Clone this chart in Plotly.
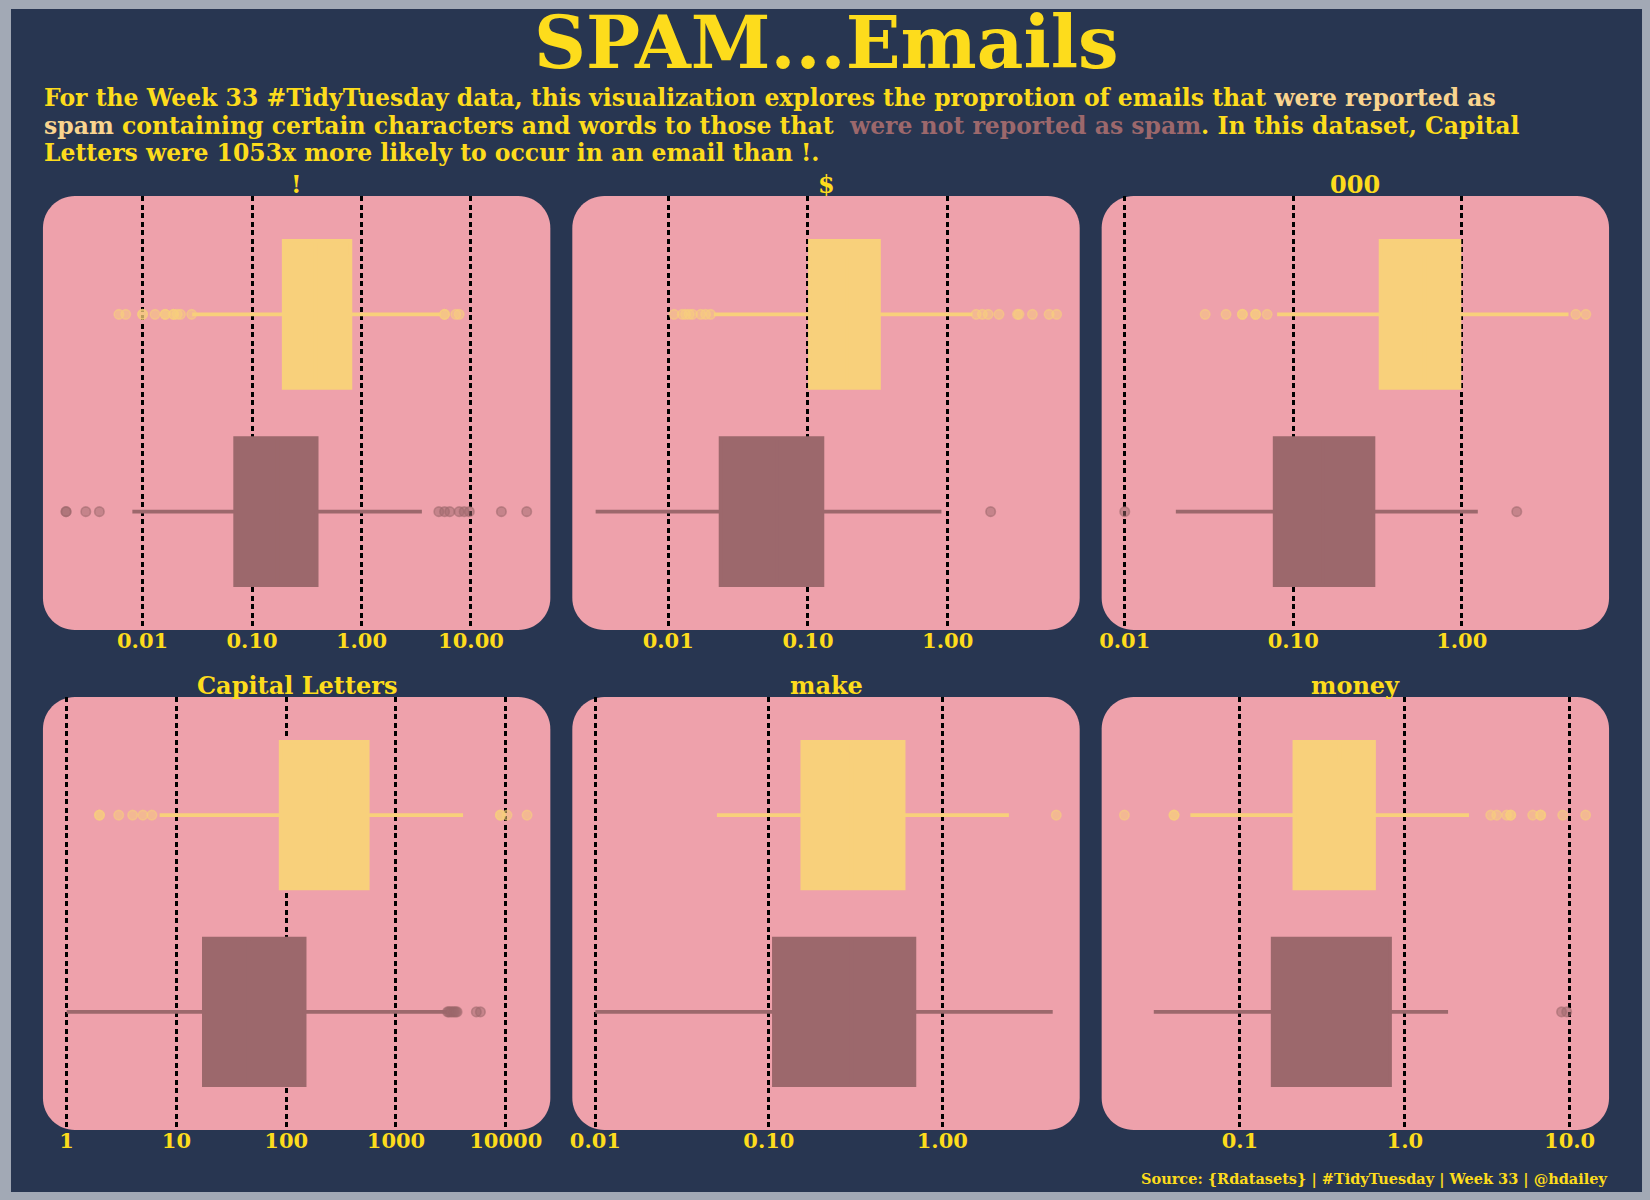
import plotly.graph_objects as go

W, H = 1650, 1200
NAVY = "#283651"
BORDER = "#a2a9b5"
PINK = "#eea1ab"
YELLOW = "#fddc1c"
SPAM_C = "#f8d07b"
HAM_C = "#9c686c"
FONT = "DejaVu Serif"

# ---------------- data ----------------
panel_titles = ["!", "$", "000", "Capital Letters", "make", "money"]

# log10 axis ranges of each panel
x_ranges = [[-2.91, 1.725], [-2.687, 0.945], [-2.137, 0.874],
            [-0.216, 4.406], [-2.133, 0.792], [-1.839, 1.239]]

tick_vals = [[0.01, 0.1, 1, 10], [0.01, 0.1, 1], [0.01, 0.1, 1],
             [1, 10, 100, 1000, 10000], [0.01, 0.1, 1], [0.1, 1, 10]]
tick_text = [["0.01", "0.10", "1.00", "10.00"], ["0.01", "0.10", "1.00"],
             ["0.01", "0.10", "1.00"], ["1", "10", "100", "1000", "10000"],
             ["0.01", "0.10", "1.00"], ["0.1", "1.0", "10.0"]]

# reported as spam
spam_q1 = [0.195, 0.1033, 0.330, 89.1, 0.156, 0.214]
spam_med = [0.38, 0.19, 0.60, 230, 0.30, 0.40]
spam_q3 = [0.791, 0.322, 0.968, 552, 0.598, 0.650]
spam_lo = [0.0284, 0.0212, 0.0802, 7.03, 0.0502, 0.050]
spam_hi = [5.27, 1.503, 4.30, 4083, 2.42, 2.45]
spam_out = [
    [0.00608, 0.00702, 0.01, 0.01, 0.0130, 0.0161, 0.0161, 0.0192, 0.0192, 0.0207, 0.0222, 0.0281,
     5.74, 5.74, 7.26, 7.80],
    [0.0110, 0.0126, 0.0133, 0.0141, 0.0149, 0.0171, 0.0185, 0.0201,
     1.60, 1.77, 1.95, 2.33, 3.16, 3.24, 4.04, 5.32, 6.03],
    [0.0300, 0.0399, 0.0499, 0.0499, 0.0598, 0.0598, 0.0700, 4.75, 5.45],
    [1.99, 1.99, 2.98, 3.99, 4.95, 5.98, 8933, 8933, 10257, 15631],
    [4.54],
    [0.0199, 0.0398, 0.0398, 3.32, 3.61, 4.15, 4.39, 4.39, 5.97, 6.67, 6.67, 9.08, 12.5],
]

# not reported as spam
ham_q1 = [0.0702, 0.0237, 0.0776, 17.8, 0.107, 0.158]
ham_med = [0.17, 0.06, 0.15, 45, 0.30, 0.35]
ham_q3 = [0.389, 0.1268, 0.299, 147, 0.690, 0.813]
ham_lo = [0.00807, 0.00302, 0.0201, 1.0, 0.0100, 0.030]
ham_hi = [3.56, 0.902, 1.245, 2917, 4.33, 1.83]
ham_out = [
    [0.002, 0.002, 0.00303, 0.00403, 5.09, 5.74, 6.40, 7.80, 8.67, 9.66, 18.97, 32.3],
    [2.03],
    [0.01, 2.12],
    [2950, 3020, 3100, 3200, 3300, 3400, 3500, 3600, 5395, 5875],
    [],
    [8.93, 9.59],
]

# ---------------- layout geometry (pixels) ----------------
col_px = [(41, 549), (571, 1079), (1101, 1609)]
row_px = [(196, 630), (697, 1130)]


def px(x):
    return x / W


def py(y):
    return 1 - y / H


def rgba(hexc, a):
    h = hexc.lstrip("#")
    return "rgba(%d,%d,%d,%.2f)" % (int(h[0:2], 16), int(h[2:4], 16), int(h[4:6], 16), a)


def rounded_path(x0, x1, y0, y1, r):
    k = 0.5523 * r
    pts = [
        ("M", [(x0 + r, y0)]),
        ("L", [(x1 - r, y0)]),
        ("C", [(x1 - r + k, y0), (x1, y0 + r - k), (x1, y0 + r)]),
        ("L", [(x1, y1 - r)]),
        ("C", [(x1, y1 - r + k), (x1 - r + k, y1), (x1 - r, y1)]),
        ("L", [(x0 + r, y1)]),
        ("C", [(x0 + r - k, y1), (x0, y1 - r + k), (x0, y1 - r)]),
        ("L", [(x0, y0 + r)]),
        ("C", [(x0, y0 + r - k), (x0 + r - k, y0), (x0 + r, y0)]),
    ]
    s = ""
    for cmd, ps in pts:
        s += cmd + " " + " ".join("%.5f,%.5f" % (px(a), py(b)) for a, b in ps) + " "
    return s + "Z"


fig = go.Figure()
shapes = [dict(type="rect", xref="paper", yref="paper", x0=px(9), x1=px(1642), y0=py(1192), y1=py(9),
               fillcolor=NAVY, line=dict(width=0), layer="below")]
annotations = []
layout_axes = {}

for i in range(6):
    r, c = divmod(i, 3)
    xa = "x" if i == 0 else "x%d" % (i + 1)
    ya = "y" if i == 0 else "y%d" % (i + 1)
    x0, x1 = col_px[c]
    y0, y1 = row_px[r]

    # boxes
    for pos, q1, med, q3, lo, hi, col in [
        (1, spam_q1[i], spam_med[i], spam_q3[i], spam_lo[i], spam_hi[i], SPAM_C),
        (0, ham_q1[i], ham_med[i], ham_q3[i], ham_lo[i], ham_hi[i], HAM_C),
    ]:
        fig.add_trace(go.Box(
            orientation="h", y=[pos], q1=[q1], median=[med], q3=[q3],
            lowerfence=[lo], upperfence=[hi], boxpoints=False,
            fillcolor=col, line=dict(color=col, width=3.8), whiskerwidth=0,
            width=0.745, xaxis=xa, yaxis=ya, showlegend=False, hoverinfo="skip"))
    # outliers
    for pos, vals, col in [(1, spam_out[i], SPAM_C), (0, ham_out[i], HAM_C)]:
        if vals:
            fig.add_trace(go.Scatter(
                x=vals, y=[pos] * len(vals), mode="markers",
                marker=dict(size=9.5, color=rgba(col, 0.5), line=dict(color=rgba(col, 0.55), width=1.6)),
                xaxis=xa, yaxis=ya, showlegend=False, hoverinfo="skip"))

    key = "" if i == 0 else str(i + 1)
    layout_axes["xaxis" + key] = dict(
        domain=[px(x0), px(x1)], anchor=ya, type="log", range=x_ranges[i],
        tickvals=tick_vals[i], ticktext=tick_text[i],
        showgrid=True, gridcolor="black", gridwidth=2.5, griddash="5px,3.5px",
        zeroline=False, showline=False, ticks="", ticklabelstandoff=-4,
        tickfont=dict(family=FONT, size=21, color=YELLOW, weight="bold"))
    layout_axes["yaxis" + key] = dict(
        domain=[py(y1), py(y0)], anchor=xa, range=[-0.6, 1.6], visible=False)

    shapes.append(dict(type="path", xref="paper", yref="paper",
                       path=rounded_path(x0, x1, y0, y1, 32),
                       fillcolor=PINK, line=dict(width=0), layer="below"))
    annotations.append(dict(
        x=px((x0 + x1) / 2), y=py(y0 - 11.5), xref="paper", yref="paper",
        text=panel_titles[i], showarrow=False, xanchor="center", yanchor="middle",
        font=dict(family=FONT, size=24, color=YELLOW, weight="bold")))

# title
annotations.append(dict(x=0.5, y=py(42.5), xref="paper", yref="paper", text="SPAM...Emails",
                        showarrow=False, xanchor="center", yanchor="middle",
                        borderpad=0, borderwidth=0,
                        font=dict(family=FONT, size=72, color=YELLOW, weight="bold")))

LIGHT = "#f9d48f"
SUB_SIZE = 23.5
sub_lines = [
    "For the Week 33 #TidyTuesday data, this visualization explores the proprotion of emails that "
    "<span style='color:%s'>were reported as</span>" % LIGHT,
    "<span style='color:%s'>spam</span> containing certain characters and words to those that  "
    "<span style='color:%s'>were not reported as spam</span>. In this dataset, Capital" % (LIGHT, HAM_C),
    "Letters were 1053x more likely to occur in an email than !.",
]
# baselines of the three subtitle lines (px from top)
for text, yb in zip(sub_lines, [106.5, 134.0, 161.5]):
    annotations.append(dict(x=px(42), y=py(yb + 0.236 * SUB_SIZE), xref="paper", yref="paper",
                            text=text, showarrow=False, xanchor="left", yanchor="bottom",
                            borderpad=0, borderwidth=0,
                            font=dict(family=FONT, size=SUB_SIZE, color=YELLOW, weight="bold")))

annotations.append(dict(x=px(1609), y=py(1179), xref="paper", yref="paper",
                        text="Source: {Rdatasets} | #TidyTuesday | Week 33 | @hdailey",
                        showarrow=False, xanchor="right", yanchor="middle",
                        font=dict(family=FONT, size=14.5, color=YELLOW, weight="bold")))

fig.update_layout(
    width=W, height=H, margin=dict(l=0, r=0, t=0, b=0),
    paper_bgcolor=BORDER, plot_bgcolor="rgba(0,0,0,0)",
    shapes=shapes, annotations=annotations, showlegend=False,
    **layout_axes)

fig.write_html("out.html")
